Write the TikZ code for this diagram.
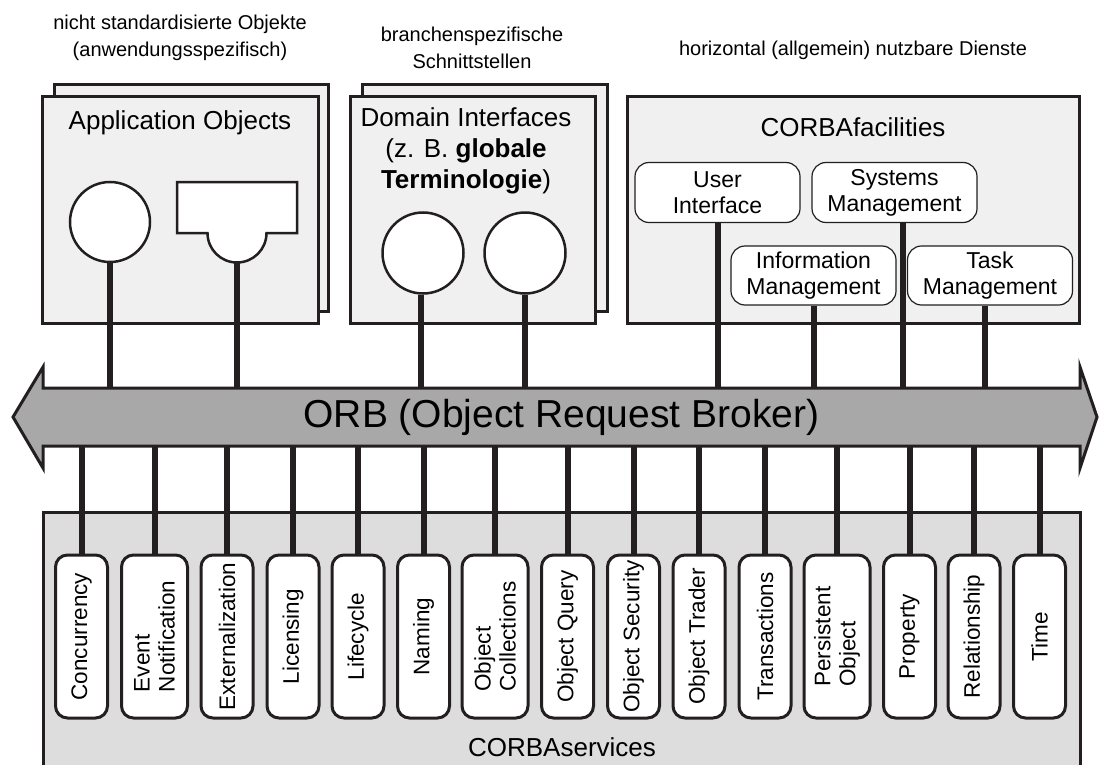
\documentclass[tikz,border=0pt]{standalone}
\usepackage{fontspec}
\setmainfont{Liberation Sans}
\usetikzlibrary{positioning, calc}
\definecolor{ink}{HTML}{231F20}
\definecolor{sheetgray}{HTML}{F0F0F0}
\definecolor{svcgray}{HTML}{DDDDDD}
\definecolor{orbgray}{HTML}{A8A8A8}

\begin{document}
\begin{tikzpicture}[x=1pt, y=-1pt,
    sheet/.style={draw=ink, line width=3pt, fill=sheetgray, inner sep=0pt},
    plug/.style={circle, draw=ink, line width=2.5pt, fill=white, minimum size=81pt, inner sep=0pt},
    facbox/.style={draw=ink, line width=1.2pt, rounded corners=14pt, fill=white, minimum width=165pt, minimum height=60pt, inner sep=0pt, align=center, font=\fontsize{23}{26}\selectfont},
    svcbox/.style={draw=ink, line width=3pt, rounded corners=12pt, fill=white, rotate=90, minimum width=163pt, minimum height=52pt, inner sep=0pt, align=center, font=\fontsize{22.5}{25}\selectfont},
    wide/.style={minimum height=66pt, align=left},
    link/.style={draw=ink, line width=6pt},
    title/.style={align=center, font=\fontsize{26}{31}\selectfont},
    note/.style={align=center, font=\fontsize{20}{27}\selectfont}
]
    \useasboundingbox (0,0) rectangle (1099,765);

    % Application Objects
    \node[sheet, minimum width=274pt, minimum height=226pt] (appback) at (191,198) {};
    \node[sheet, minimum width=276pt, minimum height=226pt] (appbox) at (180,210) {};
    \node[title] (apptitle) at (180,123) {Application Objects};
    \node[plug, minimum size=80pt] (ao1) at (110,222) {};
    \draw[ink, line width=2.5pt, fill=white] (177,182) -- (297,182) -- (297,233) -- (266.5,233)
        arc[start angle=0, end angle=180, radius=29.5] -- (177,233) -- cycle;
    \coordinate (ao2) at (237,262.5);
    \node[note] (appnote) at (180,38) {nicht standardisierte Objekte\\(anwendungsspezifisch)};

    % Domain Interfaces
    \node[sheet, minimum width=245pt, minimum height=226pt] (domback) at (484.5,198) {};
    \node[sheet, minimum width=245pt, minimum height=226pt] (dombox) at (472.5,210) {};
    \node[title] (domtitle) at (466,151) {Domain Interfaces\\(z. B. \textbf{globale}\\\textbf{Terminologie})};
    \node[plug] (di1) at (423,253) {};
    \node[plug] (di2) at (525,253) {};
    \node[note] (domnote) at (472,48) {branchenspezifische\\Schnittstellen};

    % CORBAfacilities
    \node[sheet, minimum width=452pt, minimum height=226pt] (facbox) at (853,210) {};
    \node[title] (factitle) at (853,127) {CORBAfacilities};
    \node[facbox] (ui) at (717.5,192.5) {User\\Interface};
    \node[facbox] (sysmgmt) at (894.5,192.5) {Systems\\Management};
    \node[facbox, minimum height=59pt] (infomgmt) at (813.5,275.5) {Information\\Management};
    \node[facbox, minimum height=59pt] (taskmgmt) at (990,275.5) {Task\\Management};
    \node[note] (facnote) at (853,50) {horizontal (allgemein) nutzbare Dienste};

    % CORBAservices
    \fill[svcgray] (43,512) rectangle (1080,765);
    \draw[ink, line width=3pt] (43,765) -- (43,512) -- (1080,512) -- (1080,765);
    \node[title] (svctitle) at (562,747) {CORBAservices};
    \node[svcbox] (s1) at (81.5,636.5) {Concurrency};
    \node[svcbox, wide] (s2) at (154.5,636.5) {Event\\Notification};
    \node[svcbox] (s3) at (227,636.5) {Externalization};
    \node[svcbox] (s4) at (293,636.5) {Licensing};
    \node[svcbox] (s5) at (358,636.5) {Lifecycle};
    \node[svcbox] (s6) at (423.5,636.5) {Naming};
    \node[svcbox, wide] (s7) at (495,636.5) {Object\\Collections};
    \node[svcbox] (s8) at (567.5,636.5) {Object Query};
    \node[svcbox] (s9) at (633.5,636.5) {Object Security};
    \node[svcbox] (s10) at (699,636.5) {Object Trader};
    \node[svcbox] (s11) at (765,636.5) {Transactions};
    \node[svcbox, wide] (s12) at (837,636.5) {Persistent\\Object};
    \node[svcbox] (s13) at (909.5,636.5) {Property};
    \node[svcbox] (s14) at (974,636.5) {Relationship};
    \node[svcbox] (s15) at (1039.5,636.5) {Time};

    % ORB
    \draw[ink, line width=3pt, fill=orbgray] (43,388) -- (1080,388) -- (1080,367) -- (1097,417)
        -- (1080,468) -- (1080,446) -- (43,446) -- (43,468) -- (13,417) -- (43,367) -- cycle;
    \node[minimum width=1037pt, minimum height=58pt, inner sep=0pt, font=\fontsize{39}{44}\selectfont] (orb) at (561.5,417) {ORB (Object Request Broker)};

    % links to the ORB
    \draw[link] (ao1.south) -- (ao1.south |- orb.north);
    \draw[link] (ao2) -- (ao2 |- orb.north);
    \draw[link] ([xshift=-2pt]di1.south) -- ([xshift=-2pt]di1.south |- orb.north);
    \draw[link] (di2.south) -- (di2.south |- orb.north);
    \draw[link] (ui.south) -- (ui.south |- orb.north);
    \draw[link] ([xshift=8pt]sysmgmt.south) -- ([xshift=8pt]sysmgmt.south |- orb.north);
    \draw[link] (infomgmt.south) -- (infomgmt.south |- orb.north);
    \draw[link] ([xshift=-5pt]taskmgmt.south) -- ([xshift=-5pt]taskmgmt.south |- orb.north);

    \draw[link] (s1.east) -- (s1.east |- orb.south);
    \draw[link] (s2.east) -- (s2.east |- orb.south);
    \draw[link] (s3.east) -- (s3.east |- orb.south);
    \draw[link] (s4.east) -- (s4.east |- orb.south);
    \draw[link] (s5.east) -- (s5.east |- orb.south);
    \draw[link] (s6.east) -- (s6.east |- orb.south);
    \draw[link] (s7.east) -- (s7.east |- orb.south);
    \draw[link] (s8.east) -- (s8.east |- orb.south);
    \draw[link] (s9.east) -- (s9.east |- orb.south);
    \draw[link] (s10.east) -- (s10.east |- orb.south);
    \draw[link] (s11.east) -- (s11.east |- orb.south);
    \draw[link] (s12.east) -- (s12.east |- orb.south);
    \draw[link] (s13.east) -- (s13.east |- orb.south);
    \draw[link] (s14.east) -- (s14.east |- orb.south);
    \draw[link] (s15.east) -- (s15.east |- orb.south);
\end{tikzpicture}
\end{document}
